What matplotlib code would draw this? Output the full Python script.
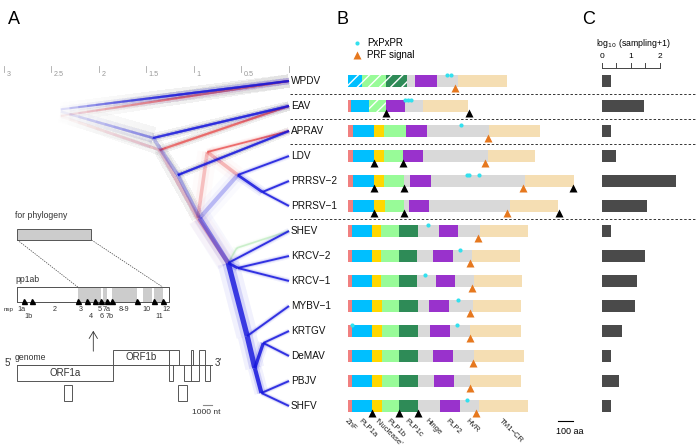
import numpy as np
import matplotlib
matplotlib.use("Agg")
import matplotlib.pyplot as plt
from matplotlib.patches import Rectangle

plt.rcParams['font.family'] = ['Liberation Sans', 'DejaVu Sans']
plt.rcParams['hatch.linewidth'] = 1.0

# ---------------- data ----------------
viruses = ['WPDV', 'EAV', 'APRAV', 'LDV', 'PRRSV\u22122', 'PRRSV\u22121', 'SHEV',
           'KRCV\u22122', 'KRCV\u22121', 'MYBV\u22121', 'KRTGV', 'DeMAV', 'PBJV', 'SHFV']
sampling_log10 = [0.30, 1.44, 0.30, 0.47, 2.56, 1.55, 0.30, 1.47, 1.21, 1.15, 0.69, 0.30, 0.59, 0.30]
separator_after = [0, 1, 2, 5]

tree_ticks = [3, 2.5, 2, 1.5, 1, 0.5, 0]
tree_tick_labels = ['3', '2.5', '2', '1.5', '1', '0.5', '']

# tree nodes: (distance from tips, row position)
tips = {v: (0.0, i) for i, v in enumerate(viruses)}
blue_nodes = {'R': (2.46, 1.16), 'N1': (1.43, 2.28), 'A': (1.17, 3.76), 'N2': (0.94, 5.48),
              'N3': (0.54, 3.76), 'P': (0.28, 4.44), 'T1': (0.64, 7.28), 'K': (0.54, 7.48),
              'T2': (0.44, 10.2), 'T3': (0.36, 11.48), 'KD': (0.27, 10.48), 'PB': (0.29, 12.48)}
blue_edges = [('R', 'WPDV', 1.5, 1.0), ('R', 'N1', 1.8, 0.6), ('N1', 'EAV', 1.5, 1.0),
              ('N1', 'A', 2.6, 0.35), ('A', 'APRAV', 1.4, 1.0), ('A', 'N2', 2.6, 0.35),
              ('N2', 'N3', 3.0, 0.30), ('N3', 'LDV', 1.4, 1.0), ('N3', 'P', 2.0, 1.0),
              ('P', 'PRRSV\u22122', 1.4, 1.0), ('P', 'PRRSV\u22121', 1.4, 1.0),
              ('N2', 'T1', 3.4, 0.55), ('T1', 'SHEV', 1.4, 1.0), ('T1', 'K', 2.0, 1.0),
              ('K', 'KRCV\u22122', 1.4, 1.0), ('K', 'KRCV\u22121', 1.4, 1.0),
              ('T1', 'T2', 3.8, 0.95), ('T2', 'MYBV\u22121', 1.4, 1.0), ('T2', 'T3', 3.8, 0.95),
              ('T3', 'KD', 2.4, 1.0), ('KD', 'KRTGV', 1.4, 1.0), ('KD', 'DeMAV', 1.4, 1.0),
              ('T3', 'PB', 3.0, 1.0), ('PB', 'PBJV', 1.4, 1.0), ('PB', 'SHFV', 1.4, 1.0)]
red_nodes = {'R': (2.41, 1.4), 'Nr1': (1.36, 2.76), 'Nr2': (0.96, 5.48), 'Nr3': (0.86, 2.84),
             'N3': (0.54, 3.76), 'T1': (0.64, 7.28)}
red_edges = [('R', 'WPDV', 1.5, 0.75), ('R', 'Nr1', 2.0, 0.4), ('Nr1', 'EAV', 1.4, 0.85),
             ('Nr1', 'Nr2', 3.0, 0.30), ('Nr2', 'Nr3', 2.6, 0.35), ('Nr3', 'APRAV', 1.3, 0.9),
             ('Nr3', 'N3', 2.6, 0.40), ('Nr2', 'T1', 3.0, 0.40)]
green_nodes = {'G1': (0.55, 6.68), 'T1': (0.64, 7.28)}
green_edges = [('T1', 'G1', 1.2, 0.3), ('G1', 'SHEV', 1.2, 0.3)]

domain_colors = {'ZnF': '#f08080', 'PLP1a': '#00bfff', 'Nuclease': '#ffd700', 'PLP1b': '#98fb98',
                 'PLP1c': '#2e8b57', 'Hinge': '#d9d9d9', 'PLP2': '#9932cc', 'HVR': '#d9d9d9',
                 'TM1-CR': '#f5deb3'}
arteri_names = ['ZnF', 'PLP1a', 'Nuclease', 'PLP1b', 'PLP2', 'HVR', 'TM1-CR']
prrsv_names = ['ZnF', 'PLP1a', 'Nuclease', 'PLP1b', 'Hinge', 'PLP2', 'HVR', 'TM1-CR']
sim_names = ['ZnF', 'PLP1a', 'Nuclease', 'PLP1b', 'PLP1c', 'Hinge', 'PLP2', 'HVR', 'TM1-CR']
dom_names = {
    'WPDV': ['PLP1a*', 'PLP1b*', 'PLP1c*', 'Hinge', 'PLP2', 'HVR', 'TM1-CR'],
    'EAV': ['ZnF', 'PLP1a', 'PLP1b*', 'PLP2', 'HVR', 'TM1-CR'],
    'APRAV': arteri_names, 'LDV': arteri_names,
    'PRRSV\u22122': prrsv_names, 'PRRSV\u22121': prrsv_names,
}
for v in viruses[6:]:
    dom_names[v] = sim_names
dom_ends = {
    'WPDV': [95, 253, 395, 447, 593, 731, 1062],
    'EAV': [20, 140, 253, 380, 502, 802],
    'APRAV': [35, 175, 240, 387, 527, 942, 1280],
    'LDV': [31, 175, 240, 369, 502, 931, 1247],
    'PRRSV\u22122': [31, 175, 240, 373, 413, 551, 1180, 1507],
    'PRRSV\u22121': [31, 175, 247, 373, 407, 540, 1080, 1398],
    'SHEV': [25, 160, 220, 340, 469, 609, 735, 880, 1198],
    'KRCV\u22122': [25, 162, 220, 340, 462, 565, 698, 825, 1147],
    'KRCV\u22121': [25, 162, 220, 340, 462, 587, 713, 842, 1162],
    'MYBV\u22121': [25, 162, 225, 340, 469, 542, 673, 835, 1151],
    'KRTGV': [25, 162, 225, 340, 469, 547, 680, 813, 1151],
    'DeMAV': [25, 162, 225, 342, 469, 569, 702, 842, 1173],
    'PBJV': [25, 162, 225, 342, 469, 573, 707, 813, 1151],
    'SHFV': [25, 162, 225, 342, 469, 613, 747, 875, 1198],
}
pxpxpr = {'WPDV': [660, 687], 'EAV': [380, 400, 420], 'APRAV': [753],
          'PRRSV\u22122': [791, 809, 875], 'SHEV': [531], 'KRCV\u22122': [747],
          'KRCV\u22121': [513], 'MYBV\u22121': [731], 'KRTGV': [29, 725], 'SHFV': [795]}
prf_signal = {'WPDV': 715, 'APRAV': 931, 'LDV': 915, 'PRRSV\u22122': 1165, 'PRRSV\u22121': 1062,
              'SHEV': 869, 'KRCV\u22122': 813, 'KRCV\u22121': 829, 'MYBV\u22121': 815,
              'KRTGV': 815, 'DeMAV': 835, 'PBJV': 813, 'SHFV': 853}
cleavage = {'EAV': [253, 807], 'LDV': [175, 369], 'PRRSV\u22122': [175, 373, 1500],
            'PRRSV\u22121': [175, 373, 1405], 'SHFV': [162, 342, 469]}
domain_axis_labels = ['ZnF', 'PLP1a', '\u2018Nuclease\u2019', 'PLP1b', 'PLP1c', 'Hinge', 'PLP2', 'HVR', 'TM1\u2212CR']
domain_label_pos = [0, 93, 200, 280, 400, 533, 673, 807, 1027]

# genome schematic (nt)
orf1a = (0, 8100)
orf1b = (8100, 13660)
pp1ab_gray = [(5100, 7100), (7200, 7600), (7950, 10100), (10580, 11370), (11570, 12260)]
nsp_sites = [560, 1260, 5100, 5860, 6530, 7090, 7540, 7950, 10100, 11570, 12260]
nsp_row1 = [('1a', 340), ('2', 3190), ('3', 5380), ('5', 6940), ('7a', 7510), ('8-9', 9020), ('10', 10870), ('12', 12550)]
nsp_row2 = [('1b', 950), ('4', 6200), ('6', 7080), ('7b', 7790), ('11', 12000)]

# ---------------- figure ----------------
W, H = 696, 446
fig = plt.figure(figsize=(W / 100, H / 100), dpi=100)
row_lim = ((H - 81) / 25, (0 - 81) / 25)


def full_axes(xlim):
    ax = fig.add_axes([0, 0, 1, 1])
    ax.set_xlim(*xlim)
    ax.set_ylim(*row_lim)
    ax.axis('off')
    ax.patch.set_alpha(0)
    return ax


def ry(ypx):
    return (ypx - 81) / 25


# ---------- panel A: tree ----------
axt = full_axes((289 / 95, (289 - W) / 95))

FADE_HI, FADE_SPAN = 2.45, 1.3


def draw_edge(ax, p, c, color, w, a):
    dpar, dch = p[0], c[0]
    dmax = max(dpar, dch)
    md = 0.5 * (dpar + dch)
    layers = [(w * (2.2 + 3.5 * md), 0.06), (w * (1.6 + 1.2 * md), 0.14), (w, 0.85)]
    needs_fade = dmax > FADE_HI - FADE_SPAN
    for lw, la in layers:
        L = min(la * a, 0.98)
        if not needs_fade:
            ax.plot([c[0], p[0]], [c[1], p[1]], color=color, alpha=L, lw=lw,
                    solid_capstyle='butt')
            continue
        n = 14
        alpha_each = 1 - (1 - L) ** (1.0 / n)
        for k in range(1, n + 1):
            dk = FADE_HI - FADE_SPAN * (k - 0.5) / n
            t = (dk - dch) / (dpar - dch) if dpar != dch else 1.0
            t = min(t, 1.0)
            if t <= 0:
                continue
            xe = c[0] + (p[0] - c[0]) * t
            ye = c[1] + (p[1] - c[1]) * t
            ax.plot([c[0], xe], [c[1], ye], color=color, alpha=alpha_each, lw=lw,
                    solid_capstyle='butt')


def draw_tree(nodes, edges, color):
    allnodes = dict(tips)
    allnodes.update(nodes)
    for p, c, w, a in edges:
        draw_edge(axt, allnodes[p], allnodes[c], color, w, a)


draw_tree(green_nodes, green_edges, '#55cc55')
draw_tree(red_nodes, red_edges, '#e84848')
draw_tree(blue_nodes, blue_edges, '#1515dd')

for tv, tl in zip(tree_ticks, tree_tick_labels):
    axt.plot([tv, tv], [ry(66), ry(72)], color='#aaaaaa', lw=0.6)
    if tl:
        axt.text(tv - 0.025, ry(74), tl, fontsize=5.2, color='#999999', ha='left', va='center')

for i, v in enumerate(viruses):
    axt.text(-0.02, i, v, fontsize=7.2, ha='left', va='center', color='#111111')

# ---------- overlay: labels & schematic ----------
ov = fig.add_axes([0, 0, 1, 1])
ov.set_xlim(0, W)
ov.set_ylim(H, 0)
ov.axis('off')
ov.patch.set_alpha(0)
for lab, x in [('A', 8), ('B', 336), ('C', 582)]:
    ov.text(x, 20, lab, fontsize=13, ha='left', va='center')

gx0, gpx = 17.3, 96.0 / 8100  # px per nt


def gx(nt):
    return gx0 + nt * gpx


ec = '#555555'
txtc = '#333333'
# for phylogeny box
ov.text(15, 216, 'for phylogeny', fontsize=6.2, color=txtc, ha='left', va='center')
ov.add_patch(Rectangle((gx(0), 229), gx(6260) - gx(0), 11, fc='#cccccc', ec=ec, lw=0.7))
ov.plot([gx(0), gx(pp1ab_gray[0][0])], [240, 287], ls=(0, (2, 1.5)), color='#444444', lw=0.5)
ov.plot([gx(6260), gx(pp1ab_gray[-1][1])], [240, 287], ls=(0, (2, 1.5)), color='#444444', lw=0.5)
# pp1ab
ov.text(15, 279, 'pp1ab', fontsize=6.2, color=txtc, ha='left', va='center')
ov.add_patch(Rectangle((gx(0), 287), gx(12820) - gx(0), 15.3, fc='white', ec=ec, lw=0.7))
for s, e in pp1ab_gray:
    ov.add_patch(Rectangle((gx(s), 287.3), gx(e) - gx(s), 14.7, fc='#cccccc', ec='none'))
ov.add_patch(Rectangle((gx(0), 287), gx(12820) - gx(0), 15.3, fc='none', ec=ec, lw=0.7))
ov.plot([gx(n) for n in nsp_sites], [300.5] * len(nsp_sites), ls='none', marker='^', ms=3.6, color='black')
ov.text(4, 310, 'nsp', fontsize=4.5, color=txtc, ha='left', va='center')
for lab, n in nsp_row1:
    ov.text(gx(n), 309.5, lab, fontsize=5.2, color=txtc, ha='center', va='center')
for lab, n in nsp_row2:
    ov.text(gx(n), 317, lab, fontsize=5.2, color=txtc, ha='center', va='center')
ov.annotate('', xy=(93.3, 328), xytext=(93.3, 354),
            arrowprops=dict(arrowstyle='->,head_length=0.5,head_width=0.3', lw=0.6, color='#333333'))
# genome
ov.text(15, 357, 'genome', fontsize=6.2, color=txtc, ha='left', va='center')
ov.text(8, 363, "5'", fontsize=7, color=txtc, ha='center', va='center')
ov.text(218, 363, "3'", fontsize=7, color=txtc, ha='center', va='center')
ov.plot([17.3, 212.3], [365, 365], color=ec, lw=0.7)
ov.add_patch(Rectangle((gx(orf1a[0]), 365), gx(orf1a[1]) - gx(orf1a[0]), 16, fc='none', ec=ec, lw=0.7))
ov.add_patch(Rectangle((gx(orf1b[0]), 350), 169.3 - gx(orf1b[0]), 15, fc='none', ec=ec, lw=0.7))
ov.text((gx(orf1a[0]) + gx(orf1a[1])) / 2, 373, 'ORF1a', fontsize=7, color=txtc, ha='center', va='center')
ov.text(141.5, 357.5, 'ORF1b', fontsize=7, color=txtc, ha='center', va='center')
upper = [(169.3, 179.3), (191, 193.3), (198.7, 205)]
lower = [(169.3, 172.7), (184.3, 191), (191, 199.3), (205, 210)]
for a, b in upper:
    ov.add_patch(Rectangle((a, 350), b - a, 15, fc='none', ec=ec, lw=0.7))
for a, b in lower:
    ov.add_patch(Rectangle((a, 365), b - a, 16, fc='none', ec=ec, lw=0.7))
for a, b in [(64.3, 71.7), (177.7, 186.7)]:
    ov.add_patch(Rectangle((a, 385.3), b - a, 15.7, fc='none', ec=ec, lw=0.7))
ov.plot([203, 212], [405, 405], color='#888888', lw=0.8)
ov.text(206, 413, '1000 nt', fontsize=6, color=txtc, ha='center', va='center')

# ---------- panel B: domains ----------
aa_per_px = 100 / 15.0
axb = full_axes((-348 * aa_per_px, (W - 348) * aa_per_px))
bh = 0.24
for i, v in enumerate(viruses):
    start = 0
    for name, end in zip(dom_names[v], dom_ends[v]):
        hatched = name.endswith('*')
        col = domain_colors[name.rstrip('*')]
        if hatched:
            axb.add_patch(Rectangle((start, i - bh), end - start, 2 * bh, fc=col, ec='white', lw=0, hatch='///'))
        else:
            axb.add_patch(Rectangle((start, i - bh), end - start, 2 * bh, fc=col, ec='none', lw=0))
        start = end
    if v in pxpxpr:
        axb.plot(pxpxpr[v], [i - bh] * len(pxpxpr[v]), ls='none', marker='o', ms=3.0,
                 color='#33e0ee', mec='none')
    if v in prf_signal:
        axb.plot([prf_signal[v]], [i + bh + 0.02], ls='none', marker='^', ms=5.2, color='#e6781e', mec='none')
    if v in cleavage:
        axb.plot(cleavage[v], [i + bh + 0.02] * len(cleavage[v]), ls='none', marker='^', ms=5.2,
                 color='black', mec='none')
for k in separator_after:
    axb.axhline(k + 0.5, xmin=290 / W, xmax=1, color='#333333', lw=0.7, ls=(0, (2.5, 2)))

# legend
axb.plot([(356.7 - 348) * aa_per_px], [ry(42.7)], marker='o', ms=3.0, color='#33e0ee', mec='none')
axb.plot([(357 - 348) * aa_per_px], [ry(55)], marker='^', ms=5.2, color='#e6781e', mec='none')
axb.text((367 - 348) * aa_per_px, ry(42.7), 'PxPxPR', fontsize=7, ha='left', va='center')
axb.text((367 - 348) * aa_per_px, ry(55.5), 'PRF signal', fontsize=7, ha='left', va='center')

for lab, pos in zip(domain_axis_labels, domain_label_pos):
    axb.text(pos, ry(417), lab, fontsize=5.6, rotation=-45, rotation_mode='anchor',
             ha='left', va='top', color='#222222')
sb0 = (558 - 348) * aa_per_px
axb.plot([sb0, sb0 + 100], [ry(421), ry(421)], color='black', lw=0.8)
axb.text(sb0 + 50 + 8 * aa_per_px / 2, ry(431), '100 aa', fontsize=6.5, ha='center', va='center')

# ---------- panel C: sampling ----------
axc = full_axes(((0 - 602) / 29, (W - 602) / 29))
axc.barh(range(len(viruses)), sampling_log10, height=0.48, left=0, color='#4a4a4a')
axc.plot([0, 2], [ry(68.3), ry(68.3)], color='#444444', lw=0.7)
for tv in [0, 0.5, 1, 1.5, 2]:
    axc.plot([tv, tv], [ry(68.3), ry(62.7)], color='#444444', lw=0.7)
for tv in [0, 1, 2]:
    axc.text(tv, ry(56), str(tv), fontsize=6, ha='center', va='center')
axc.text(1.08, ry(43.3), r'log$_{10}$ (sampling+1)', fontsize=6.3, ha='center', va='center')

fig.savefig('out.png', dpi=100)
